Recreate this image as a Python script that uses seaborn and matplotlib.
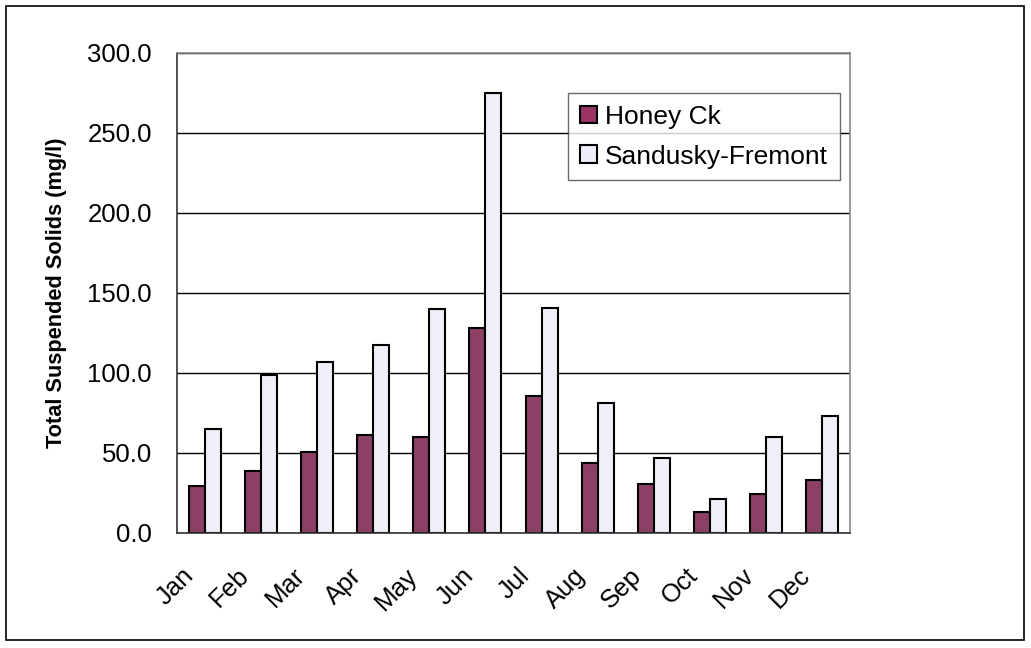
import matplotlib
matplotlib.use("Agg")
import matplotlib.pyplot as plt
import matplotlib.transforms as mtransforms
from matplotlib.patches import Rectangle, Patch
from matplotlib.ticker import FixedLocator
import numpy as np
import pandas as pd
import seaborn as sns

# -----------------------------
# Data
# -----------------------------
months = ["Jan", "Feb", "Mar", "Apr", "May", "Jun",
          "Jul", "Aug", "Sep", "Oct", "Nov", "Dec"]
honey_ck = [29.2, 38.6, 50.5, 61.3, 60.1, 128.1, 85.5, 44.0, 30.9, 13.4, 24.2, 33.4]
sandusky_fremont = [65.3, 98.7, 106.8, 117.6, 140.2, 275.3, 140.4, 81.4, 46.7, 21.3, 60.1, 73.2]
series_names = ["Honey Ck", "Sandusky-Fremont"]
y_ticks = [0, 50, 100, 150, 200, 250, 300]

df = pd.DataFrame({
    "Month": months * 2,
    "Value": honey_ck + sandusky_fremont,
    "Site": [series_names[0]] * len(months) + [series_names[1]] * len(months),
})

colors = {"Honey Ck": "#993366", "Sandusky-Fremont": "#EEEEF8"}

# -----------------------------
# Figure
# -----------------------------
sns.set_style("white")
plt.rcParams["font.family"] = ["Liberation Sans", "DejaVu Sans"]
plt.rcParams["text.color"] = "black"
plt.rcParams["axes.labelcolor"] = "black"
plt.rcParams["xtick.color"] = "black"
plt.rcParams["ytick.color"] = "black"

fig = plt.figure(figsize=(10.31, 6.48), dpi=100)
ax = fig.add_axes([177 / 1031, 1 - 533 / 648, 673 / 1031, 480 / 648])

sns.barplot(
    data=df, x="Month", y="Value", hue="Site",
    palette=colors, order=months, hue_order=series_names,
    width=0.57, edgecolor="black", linewidth=1.5, ax=ax, legend=False,
)

# outer frame
fig.patches.append(Rectangle((6 / 1031, 8 / 648), 1018 / 1031, 634 / 648,
                             transform=fig.transFigure, fill=False,
                             edgecolor="black", linewidth=1.2))

ax.set_ylim(0, 300)
ax.set_xlim(-0.5, len(months) - 0.5)
ax.set_yticks(y_ticks)
ax.set_yticklabels([f"{v:.1f}" for v in y_ticks], fontsize=18.5)
ax.yaxis.grid(True, color="black", linewidth=1)
ax.set_axisbelow(True)

ax.set_ylabel("Total Suspended Solids (mg/l)", fontsize=15.7, fontweight="bold", labelpad=15)
ax.set_xlabel("")

# ticks at category boundaries
ax.xaxis.set_minor_locator(FixedLocator(np.arange(-0.5, len(months), 1.0)))
ax.tick_params(axis="x", which="major", length=0, pad=22, labelsize=18.5, labelrotation=45)
ax.tick_params(axis="x", which="minor", length=7, width=1, color="black", direction="out")
ax.tick_params(axis="y", length=7, width=1, color="black", direction="out", pad=11)

offset = mtransforms.ScaledTranslation(-24 / 100, 0, fig.dpi_scale_trans)
for lbl in ax.get_xticklabels():
    lbl.set_ha("right")
    lbl.set_va("top")
    lbl.set_rotation_mode("anchor")
    lbl.set_transform(lbl.get_transform() + offset)

for side in ["left", "bottom"]:
    ax.spines[side].set_color("#333333")
    ax.spines[side].set_linewidth(1.2)
for side in ["top", "right"]:
    ax.spines[side].set_color("#888888")
    ax.spines[side].set_linewidth(1.2)

handles = [Patch(facecolor=colors[n], edgecolor="black", linewidth=1.5) for n in series_names]
leg = ax.legend(handles, series_names, loc="upper right", bbox_to_anchor=(0.985, 0.917),
                fontsize=19, frameon=True, fancybox=False, handlelength=0.65,
                handleheight=0.65, handletextpad=0.3, labelspacing=0.6,
                borderpad=0.45, borderaxespad=0)
leg.get_frame().set_edgecolor("#444444")
leg.get_frame().set_linewidth(1.0)

plt.savefig("out.png", dpi=100)
plt.close()
